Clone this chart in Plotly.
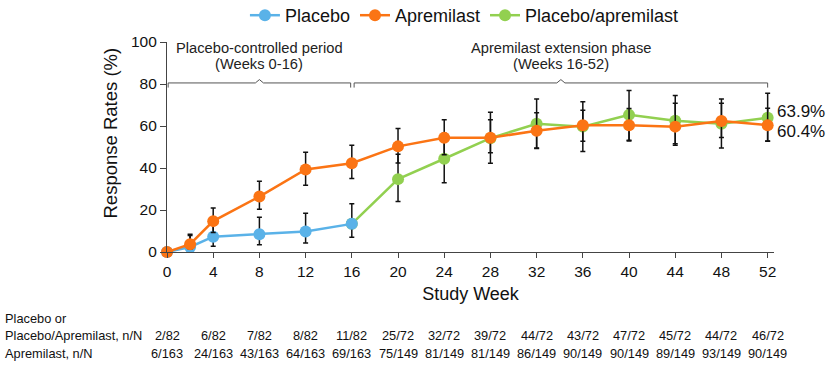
import plotly.graph_objects as go

# ---------------- data ----------------
placebo_weeks = [0, 2, 4, 8, 12, 16]
placebo_pct = [0, 2.4, 7.3, 8.5, 9.8, 13.4]
placebo_lo = [0, 0.3, 2.7, 3.5, 4.3, 7.0]
placebo_hi = [0, 8.4, 15.3, 16.5, 18.4, 23.0]

apr_weeks = [0, 2, 4, 8, 12, 16, 20, 24, 28, 32, 36, 40, 44, 48, 52]
apr_pct = [0, 3.7, 14.7, 26.4, 39.3, 42.3, 50.3, 54.4, 54.4, 57.7, 60.4, 60.4, 59.7, 62.4, 60.4]
apr_lo = [0, 1.4, 9.3, 20.3, 31.8, 35.0, 42.4, 46.3, 47.3, 49.5, 52.7, 52.8, 51.5, 54.5, 52.8]
apr_hi = [0, 7.8, 21.0, 33.7, 47.5, 50.8, 58.8, 63.0, 63.0, 66.3, 67.5, 68.3, 70.8, 70.8, 68.5]

pa_weeks = [16, 20, 24, 28, 32, 36, 40, 44, 48, 52]
pa_pct = [13.4, 34.7, 44.4, 54.2, 61.1, 59.7, 65.3, 62.5, 61.1, 63.9]
pa_lo = [None, 24.0, 33.0, 42.3, 49.3, 47.9, 53.2, 50.8, 49.5, 52.7]
pa_hi = [None, 46.6, 56.6, 66.5, 72.9, 71.6, 76.9, 74.5, 72.9, 75.6]

x_ticks = [0, 4, 8, 12, 16, 20, 24, 28, 32, 36, 40, 44, 48, 52]
y_ticks = [0, 20, 40, 60, 80, 100]

table_placebo = ["2/82", "6/82", "7/82", "8/82", "11/82", "25/72", "32/72", "39/72",
                 "44/72", "43/72", "47/72", "45/72", "44/72", "46/72"]
table_apr = ["6/163", "24/163", "43/163", "64/163", "69/163", "75/149", "81/149", "81/149",
             "86/149", "90/149", "90/149", "89/149", "93/149", "90/149"]

periods = [
    {"start": 0.1, "end": 15.9, "l1": "Placebo-controlled period", "l2": "(Weeks 0-16)"},
    {"start": 16.2, "end": 52.0, "l1": "Apremilast extension phase", "l2": "(Weeks 16-52)"},
]

BLUE = "#5AB2E8"
ORANGE = "#FB7414"
GREEN = "#92D050"
FONT = "Liberation Sans, Arial, sans-serif"

# ---------------- layout geometry (pixels) ----------------
W, H = 831, 368
L, R, T, B = 167, 774, 42, 252


def px_x(p):
    return (p - L) / (R - L)


def px_y(p):
    return (B - p) / (B - T)


def err(vals, lo, hi):
    plus = [None if h is None else h - v for v, h in zip(vals, hi)]
    minus = [None if l is None else v - l for v, l in zip(vals, lo)]
    return dict(type="data", symmetric=False, array=plus, arrayminus=minus,
                color="#111111", thickness=1.5, width=2.5)


fig = go.Figure()

fig.add_trace(go.Scatter(
    x=pa_weeks, y=pa_pct, name="Placebo/apremilast", mode="lines+markers",
    line=dict(color=GREEN, width=2.5), marker=dict(color=GREEN, size=12),
    error_y=err(pa_pct, pa_lo, pa_hi), legendrank=3, cliponaxis=False))
fig.add_trace(go.Scatter(
    x=placebo_weeks, y=placebo_pct, name="Placebo", mode="lines+markers",
    line=dict(color=BLUE, width=2.5), marker=dict(color=BLUE, size=12),
    error_y=err(placebo_pct, placebo_lo, placebo_hi), legendrank=1, cliponaxis=False))
fig.add_trace(go.Scatter(
    x=apr_weeks, y=apr_pct, name="Apremilast", mode="lines+markers",
    line=dict(color=ORANGE, width=2.5), marker=dict(color=ORANGE, size=12),
    error_y=err(apr_pct, apr_lo, apr_hi), legendrank=2, cliponaxis=False))

annotations = []
shapes = []

# period brackets
for p in periods:
    s, e = p["start"], p["end"]
    m = (s + e) / 2
    yb = 80.5
    path = (f"M {s},{yb-2.2} L {s},{yb} L {m-0.35},{yb} L {m},{yb+1.6} "
            f"L {m+0.35},{yb} L {e},{yb} L {e},{yb-2.2}")
    shapes.append(dict(type="path", xref="x", yref="y", path=path,
                       line=dict(color="#555555", width=1)))
    annotations.append(dict(x=m, y=px_y(47.5), xref="x", yref="paper", text=p["l1"],
                            showarrow=False, font=dict(size=14.7, color="#222222"),
                            xanchor="center", yanchor="middle"))
    annotations.append(dict(x=m, y=px_y(64), xref="x", yref="paper", text=p["l2"],
                            showarrow=False, font=dict(size=14.7, color="#222222"),
                            xanchor="center", yanchor="middle"))

# end labels
annotations.append(dict(x=52, y=px_y(111), xref="x", yref="paper", text=f"{pa_pct[-1]}%",
                        showarrow=False, xanchor="left", yanchor="middle", xshift=7,
                        font=dict(size=17, color="#111111")))
annotations.append(dict(x=52, y=px_y(131.5), xref="x", yref="paper", text=f"{apr_pct[-1]}%",
                        showarrow=False, xanchor="left", yanchor="middle", xshift=7,
                        font=dict(size=17, color="#111111")))

# y title
annotations.append(dict(x=px_x(110), y=px_y(133.5), xref="paper", yref="paper",
                        text="Response Rates (%)", textangle=-90, showarrow=False,
                        xanchor="center", yanchor="middle",
                        font=dict(size=18.5, color="#111111")))

# table row labels
for txt, yy in [("Placebo or", 318), ("Placebo/Apremilast, n/N", 335.5), ("Apremilast, n/N", 353.5)]:
    annotations.append(dict(x=px_x(3), y=px_y(yy), xref="paper", yref="paper", text=txt,
                            showarrow=False, xanchor="left", yanchor="middle",
                            font=dict(size=12.8, color="#111111")))
for xt, a, b in zip(x_ticks, table_placebo, table_apr):
    annotations.append(dict(x=xt, y=px_y(335.5), xref="x", yref="paper", text=a,
                            showarrow=False, xanchor="center", yanchor="middle",
                            font=dict(size=12.8, color="#111111")))
    annotations.append(dict(x=xt, y=px_y(353.5), xref="x", yref="paper", text=b,
                            showarrow=False, xanchor="center", yanchor="middle",
                            font=dict(size=12.8, color="#111111")))

fig.update_layout(
    width=W, height=H,
    margin=dict(l=L, r=W - R, t=T, b=H - B, pad=0, autoexpand=False),
    paper_bgcolor="white", plot_bgcolor="white",
    font=dict(family=FONT, color="#111111"),
    showlegend=True,
    legend=dict(orientation="h", x=0.49, xanchor="center", y=px_y(-3), yanchor="top",
                font=dict(size=18), traceorder="normal", itemwidth=30,
                bgcolor="rgba(0,0,0,0)"),
    annotations=annotations,
    shapes=shapes,
)

fig.update_xaxes(range=[0, 52.55], tickvals=x_ticks, ticktext=[str(t) for t in x_ticks],
                 showgrid=False, zeroline=False, showline=True, linecolor="#444444",
                 linewidth=1.2, ticks="outside", ticklen=5, tickcolor="#444444",
                 tickfont=dict(size=15.5), title=dict(text="Study Week", font=dict(size=18),
                 standoff=8))
fig.update_yaxes(range=[0, 100], tickvals=y_ticks, showgrid=False, zeroline=False,
                 showline=True, linecolor="#444444", linewidth=1.2, ticks="outside",
                 ticklen=6, tickcolor="#444444", tickfont=dict(size=15.5))

fig.write_html("out.html", config={"displayModeBar": False},
               post_script="document.body.style.margin='0';document.body.style.overflow='hidden';")
